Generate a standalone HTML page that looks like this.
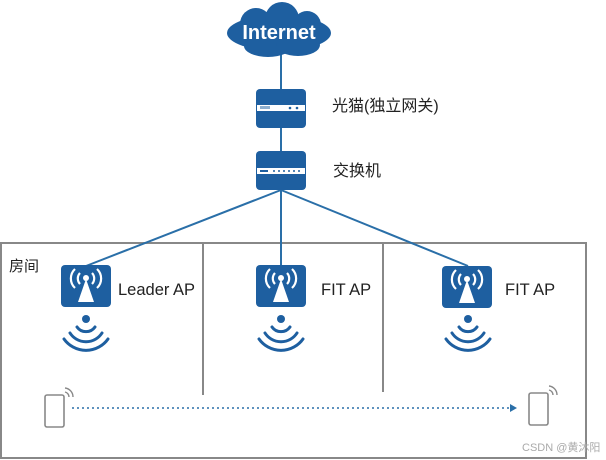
<!DOCTYPE html>
<html><head><meta charset="utf-8"><style>
body{margin:0;width:606px;height:460px;background:#fff;overflow:hidden}
svg{display:block}
text{font-family:"Liberation Sans","Noto Sans CJK SC",sans-serif}
</style></head><body>
<svg width="606" height="460" viewBox="0 0 606 460">
<defs>
<g id="ap">
<rect x="0" y="0" width="50" height="42" rx="4" fill="#1e5fa0"/>
<path d="M25 14 L17 37 L33 37 Z" fill="#fff"/>
<circle cx="25" cy="13" r="3" fill="#fff"/>
<g fill="none" stroke="#fff" stroke-width="2.2">
<path d="M19 8 A8 8 0 0 0 19 19"/><path d="M31 8 A8 8 0 0 1 31 19"/>
<path d="M14 4 A13 13 0 0 0 14 23"/><path d="M36 4 A13 13 0 0 1 36 23"/>
</g></g>
<g id="wave" fill="none" stroke="#1e5fa0" stroke-width="3" stroke-linecap="round">
<path d="M-9 -3 A11 11 0 0 0 9 -3"/>
<path d="M-16 3 A19 19 0 0 0 16 3"/>
<path d="M-22 9 A27 27 0 0 0 22 9"/>
</g>
<g id="phone">
<rect x="0" y="4" width="19" height="32" rx="2" fill="#fff" stroke="#888" stroke-width="1.6"/>
<path d="M20 1 A5 5 0 0 1 24 6" fill="none" stroke="#888" stroke-width="1.4"/>
<path d="M20 -3 A9 9 0 0 1 28 6" fill="none" stroke="#888" stroke-width="1.4"/>
</g>
</defs>
<rect x="1" y="243" width="585" height="215" fill="none" stroke="#888" stroke-width="2"/>
<line x1="203" y1="243" x2="203" y2="395" stroke="#888" stroke-width="2"/>
<line x1="383" y1="243" x2="383" y2="392" stroke="#888" stroke-width="2"/>
<g stroke="#2a6fa8" stroke-width="2" fill="none">
<line x1="281" y1="50" x2="281" y2="155"/>
<line x1="281" y1="190" x2="86" y2="266"/>
<line x1="281" y1="190" x2="281" y2="266"/>
<line x1="281" y1="190" x2="468" y2="266"/>
</g>
<g fill="#1e5fa0">
<ellipse cx="279" cy="33" rx="52" ry="18"/>
<circle cx="256" cy="24" r="16"/>
<circle cx="282" cy="19" r="17"/>
<circle cx="307" cy="25" r="14"/>
<ellipse cx="268" cy="46" rx="24" ry="11"/>
<ellipse cx="298" cy="45" rx="22" ry="11"/>
</g>
<text x="279" y="39" font-size="20" font-weight="bold" fill="#fff" text-anchor="middle">Internet</text>
<rect x="256" y="89" width="50" height="39" rx="4" fill="#1e5fa0"/>
<rect x="257" y="105" width="48" height="6" fill="#fff"/>
<rect x="260" y="106" width="10" height="3" fill="#1e5fa0" opacity=".5"/>
<circle cx="290" cy="108" r="1.3" fill="#1e5fa0"/><circle cx="297" cy="108" r="1.3" fill="#1e5fa0"/>
<rect x="256" y="151" width="50" height="39" rx="4" fill="#1e5fa0"/>
<rect x="257" y="168" width="48" height="6" fill="#fff"/>
<rect x="260" y="170" width="8" height="2" fill="#1e5fa0"/>
<g fill="#1e5fa0"><circle cx="274" cy="171" r="1"/><circle cx="279" cy="171" r="1"/><circle cx="284" cy="171" r="1"/><circle cx="289" cy="171" r="1"/><circle cx="294" cy="171" r="1"/><circle cx="299" cy="171" r="1"/></g>
<text x="332" y="111" font-size="16" fill="#222">光猫(独立网关)</text>
<text x="333" y="176" font-size="16" fill="#222">交换机</text>
<text x="9" y="271" font-size="15" fill="#222">房间</text>
<use href="#ap" x="61" y="265"/>
<use href="#ap" x="256" y="265"/>
<use href="#ap" x="442" y="266"/>
<text x="118" y="295" font-size="16.5" fill="#222">Leader AP</text>
<text x="321" y="295" font-size="16.5" fill="#222">FIT AP</text>
<text x="505" y="295" font-size="16.5" fill="#222">FIT AP</text>
<circle cx="86" cy="319" r="4" fill="#1e5fa0"/><use href="#wave" x="86" y="330"/>
<circle cx="281" cy="319" r="4" fill="#1e5fa0"/><use href="#wave" x="281" y="330"/>
<circle cx="468" cy="319" r="4" fill="#1e5fa0"/><use href="#wave" x="468" y="330"/>
<use href="#phone" x="45" y="391"/>
<use href="#phone" x="529" y="389"/>
<line x1="72" y1="408" x2="510" y2="408" stroke="#2a6fa8" stroke-width="1.6" stroke-dasharray="2 3"/>
<path d="M510 404 L517 408 L510 412 Z" fill="#2a6fa8"/>
<text x="522" y="451" font-size="11" fill="#aaa">CSDN @黄沐阳</text>
</svg>
</body></html>
